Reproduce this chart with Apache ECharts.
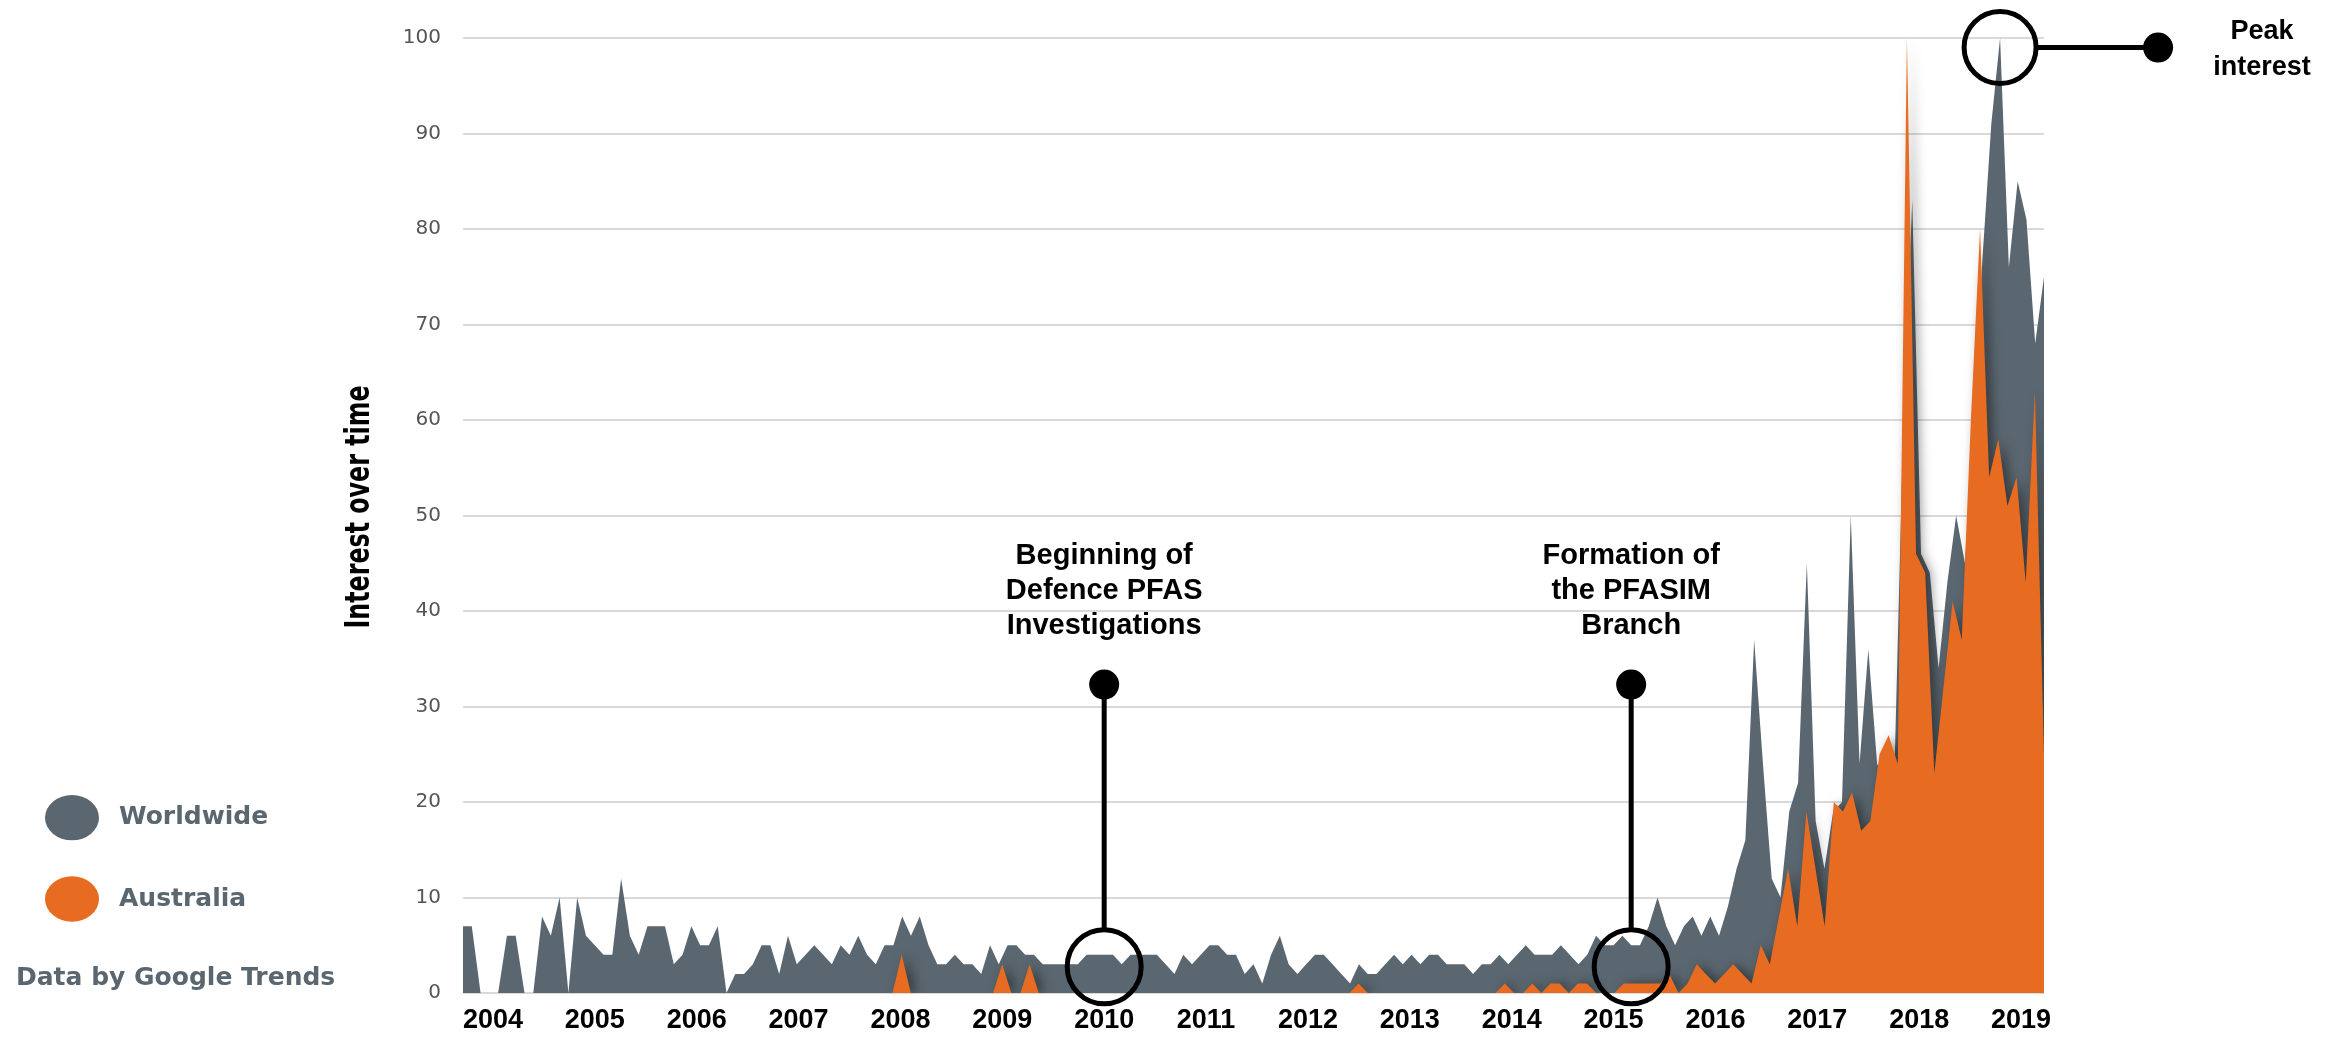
<!DOCTYPE html>
<html>
<head>
<meta charset="utf-8">
<script src="https://cdn.jsdelivr.net/npm/echarts/dist/echarts.min.js"></script>
<style>
  html, body { margin: 0; padding: 0; background: #fff; }
  #chart { width: 2336px; height: 1040px; }
</style>
</head>
<body>
<div id="chart"></div>
<script>
// Google Trends, monthly interest (0-100)
const years = ['2004', '2005', '2006', '2007', '2008', '2009', '2010', '2011',
  '2012', '2013', '2014', '2015', '2016', '2017', '2018', '2019'];

const worldwide = [
  7, 7, 0, 0, 0, 6, 6, 0, 0, 8, 6, 10, 0, 10, 6, 5, 4, 4, 12, 6, 4, 7, 7, 7,
  3, 4, 7, 5, 5, 7, 0, 2, 2, 3, 5, 5, 2, 6, 3, 4, 5, 4, 3, 5, 4, 6, 4, 3,
  5, 5, 8, 6, 8, 5, 3, 3, 4, 3, 3, 2, 5, 3, 5, 5, 4, 4, 3, 3, 3, 3, 3, 4,
  4, 4, 4, 3, 4, 4, 4, 4, 3, 2, 4, 3, 4, 5, 5, 4, 4, 2, 3, 1, 4, 6, 3, 2,
  3, 4, 4, 3, 2, 1, 3, 2, 2, 3, 4, 3, 4, 3, 4, 4, 3, 3, 3, 2, 3, 3, 4, 3,
  4, 5, 4, 4, 4, 5, 4, 3, 4, 6, 5, 5, 6, 5, 5, 7, 10, 7, 5, 7, 8, 6, 8, 6,
  9, 13, 16, 37, 24, 12, 10, 19, 22, 45, 18, 13, 19, 20, 50, 24, 36, 24, 22, 24,
  60, 83, 46, 44, 34, 43, 50, 45, 60, 77, 91, 100, 76, 85, 81, 68, 75
];

const australia = [
  0, 0, 0, 0, 0, 0, 0, 0, 0, 0, 0, 0, 0, 0, 0, 0, 0, 0, 0, 0, 0, 0, 0, 0,
  0, 0, 0, 0, 0, 0, 0, 0, 0, 0, 0, 0, 0, 0, 0, 0, 0, 0, 0, 0, 0, 0, 0, 0,
  4, 0, 0, 0, 0, 0, 0, 0, 0, 0, 0, 3, 0, 0, 3, 0, 0, 0, 0, 0, 0, 0, 0, 0,
  0, 0, 0, 0, 0, 0, 0, 0, 0, 0, 0, 0, 0, 0, 0, 0, 0, 0, 0, 0, 0, 0, 0, 0,
  0, 0, 1, 0, 0, 0, 0, 0, 0, 0, 0, 0, 0, 0, 0, 0, 0, 0, 1, 0, 0, 1, 0, 1,
  1, 0, 1, 1, 0, 0, 0, 1, 1, 1, 1, 1, 2, 0, 1, 3, 2, 1, 2, 3, 2, 1, 5, 3,
  8, 13, 7, 19, 13, 7, 20, 19, 21, 17, 18, 25, 27, 24, 100, 46, 44, 23, 32, 41,
  37, 60, 80, 54, 58, 51, 54, 43, 63, 25
];

function monthNames(startYear, count) {
  const out = [];
  for (let i = 0; i < count; i++) {
    const y = startYear + Math.floor(i / 12);
    const m = (i % 12) + 1;
    out.push(y + '-' + (m < 10 ? '0' + m : m));
  }
  return out;
}

const worldMonths = monthNames(2004, worldwide.length);
const ausMonths = monthNames(2004, australia.length);

// annotations, anchored on the worldwide axis
const notes = [
  { idx: 73.1, value: 2.75, dotValue: 32.3, text: 'Beginning of\nDefence PFAS\nInvestigations' },
  { idx: 132.6, value: 2.75, dotValue: 32.3, text: 'Formation of\nthe PFASIM\nBranch' }
];
const peakNote = { idx: 174.8, value: 99, text: 'Peak\ninterest' };

const GREY = '#5b6770';
const ORANGE = '#e76c21';
const ARIAL = '"Liberation Sans", Arial, sans-serif';
const WIDE = '"DejaVu Sans", Verdana, sans-serif';
const NARROW = '"Liberation Sans Narrow", "DejaVu Sans Condensed", sans-serif';

const chart = echarts.init(document.getElementById('chart'));

chart.setOption({
  animation: false,
  title: {
    text: 'Data by Google Trends',
    left: 11,
    top: 961,
    textStyle: { fontFamily: WIDE, fontWeight: 'bold', fontSize: 25, color: GREY }
  },
  legend: {
    orient: 'vertical',
    left: 40,
    top: 790,
    icon: 'path://M0,42A50,42,0,1,0,100,42A50,42,0,1,0,0,42Z',
    itemWidth: 54,
    itemHeight: 46,
    itemGap: 36,
    textStyle: {
      fontFamily: WIDE, fontWeight: 'bold', fontSize: 25, color: GREY,
      padding: [0, 0, 0, 15]
    },
    data: ['Worldwide', 'Australia']
  },
  grid: [
    { left: 463, right: 292, top: 38, bottom: 47 },
    { left: 442, right: 264, top: 38, bottom: 47 }
  ],
  xAxis: [
    { type: 'category', gridIndex: 0, data: worldMonths, boundaryGap: false, show: false },
    { type: 'category', gridIndex: 0, data: ausMonths, boundaryGap: false, show: false },
    {
      type: 'category', gridIndex: 1, data: years, boundaryGap: true,
      axisLine: { show: false },
      axisTick: { show: false },
      axisLabel: { fontFamily: ARIAL, fontWeight: 'bold', fontSize: 27, color: '#000', margin: 14 }
    }
  ],
  yAxis: [
    {
      type: 'value', gridIndex: 0, min: 0, max: 100, interval: 10,
      axisLine: { show: false },
      axisTick: { show: false },
      axisLabel: { fontFamily: WIDE, fontSize: 20, color: '#555', margin: 22 },
      splitLine: { lineStyle: { color: '#d9d9d9', width: 2 } }
    },
    { type: 'value', gridIndex: 1, min: 0, max: 100, show: false, splitLine: { show: false } }
  ],
  series: [
    {
      name: 'Worldwide',
      type: 'line',
      xAxisIndex: 0,
      yAxisIndex: 0,
      data: worldwide,
      symbol: 'none',
      color: GREY,
      lineStyle: { width: 0 },
      areaStyle: { color: GREY, opacity: 1 }
    },
    {
      name: 'Australia',
      type: 'line',
      xAxisIndex: 1,
      yAxisIndex: 0,
      data: australia,
      symbol: 'none',
      color: ORANGE,
      lineStyle: { width: 0 },
      areaStyle: {
        color: ORANGE,
        opacity: 1,
        shadowColor: 'rgba(0, 0, 0, 0.45)',
        shadowBlur: 12,
        shadowOffsetX: 5
      }
    }
  ]
});

// axis title, squeezed to the condensed look of the original
const graphics = [{
  type: 'text', z: 100, x: 360, y: 507, rotation: Math.PI / 2, scaleX: 0.8,
  style: { text: 'Interest over time', font: 'bold 33px ' + NARROW, fill: '#000',
    align: 'center', verticalAlign: 'middle' }
}];

// call-outs, placed once the axes are laid out
const R = 37;
notes.forEach(n => {
  const c = chart.convertToPixel({ xAxisIndex: 0, yAxisIndex: 0 }, [n.idx, n.value]);
  const d = chart.convertToPixel({ xAxisIndex: 0, yAxisIndex: 0 }, [n.idx, n.dotValue]);
  graphics.push(
    { type: 'circle', z: 100, shape: { cx: c[0], cy: c[1], r: R },
      style: { fill: 'none', stroke: '#000', lineWidth: 5 } },
    { type: 'line', z: 100, shape: { x1: c[0], y1: c[1] - R, x2: c[0], y2: d[1] },
      style: { stroke: '#000', lineWidth: 5 } },
    { type: 'circle', z: 100, shape: { cx: c[0], cy: d[1], r: 15 }, style: { fill: '#000' } },
    { type: 'text', z: 100, x: c[0], y: d[1] - 41,
      style: { text: n.text, font: 'bold 29px ' + ARIAL, fill: '#000',
        align: 'center', verticalAlign: 'bottom', lineHeight: 35 } }
  );
});

const p = chart.convertToPixel({ xAxisIndex: 0, yAxisIndex: 0 }, [peakNote.idx, peakNote.value]);
const dotX = p[0] + 158;
graphics.push(
  { type: 'circle', z: 100, shape: { cx: p[0], cy: p[1], r: 36 },
    style: { fill: 'none', stroke: '#000', lineWidth: 5 } },
  { type: 'line', z: 100, shape: { x1: p[0] + 36, y1: p[1], x2: dotX, y2: p[1] },
    style: { stroke: '#000', lineWidth: 5 } },
  { type: 'circle', z: 100, shape: { cx: dotX, cy: p[1], r: 15 }, style: { fill: '#000' } },
  { type: 'text', z: 100, x: dotX + 104, y: p[1] + 2,
    style: { text: peakNote.text, font: 'bold 27px ' + ARIAL, fill: '#000',
      align: 'center', verticalAlign: 'middle', lineHeight: 36 } }
);

chart.setOption({ graphic: graphics });
</script>
</body>
</html>
